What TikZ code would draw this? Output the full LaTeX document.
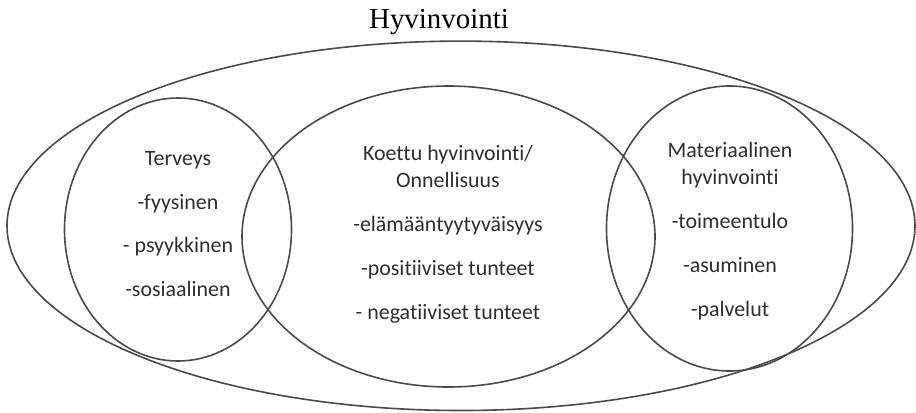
\documentclass[tikz,border=0pt]{standalone}
\usepackage{fontspec}
\setmainfont{Liberation Serif}
\newfontfamily\calibri[Ligatures={NoCommon,NoRare,NoDiscretionary}]{Carlito}
\definecolor{rim}{HTML}{4A4A4A}
\definecolor{ink}{HTML}{2E2E2E}

\begin{document}
\begin{tikzpicture}[x=1bp, y=-1bp, line width=1.6bp, draw=rim,
    osa/.style={align=center, text=ink, font=\calibri\fontsize{22}{27}\selectfont}]
            \useasboundingbox (0,0) rectangle (916,412);
            \coordinate (H) at (461,225.8); \coordinate (T) at (178,229.5);
            \coordinate (K) at (448.5,236.5); \coordinate (M) at (729.5,228.5);
            \draw[rim] (H) ellipse [x radius=454, y radius=184.7];
            \draw[rim] (T) ellipse [x radius=113.5, y radius=131.5];
            \draw[rim] (K) ellipse [x radius=206.5, y radius=150.5];
            \draw[rim] (M) ellipse [x radius=123, y radius=142.5];
            \node (otsikko) at (439,22) {\fontsize{29}{34}\selectfont Hyvinvointi};
            \node[osa] (terveys) at (178,224) {Terveys\\[17bp] -fyysinen\\[17bp] - psyykkinen\\[17bp] -sosiaalinen};
            \node[osa] (koettu) at (448,234) {Koettu hyvinvointi/\\ Onnellisuus\\[17bp] -elämääntyytyväisyys\\[17bp] -positiiviset tunteet\\[17bp] - negatiiviset tunteet};
            \node[osa] (materia) at (730,231) {Materiaalinen\\ hyvinvointi\\[17bp] -toimeentulo\\[17bp] -asuminen\\[17bp] -palvelut};
        \end{tikzpicture}
\end{document}
